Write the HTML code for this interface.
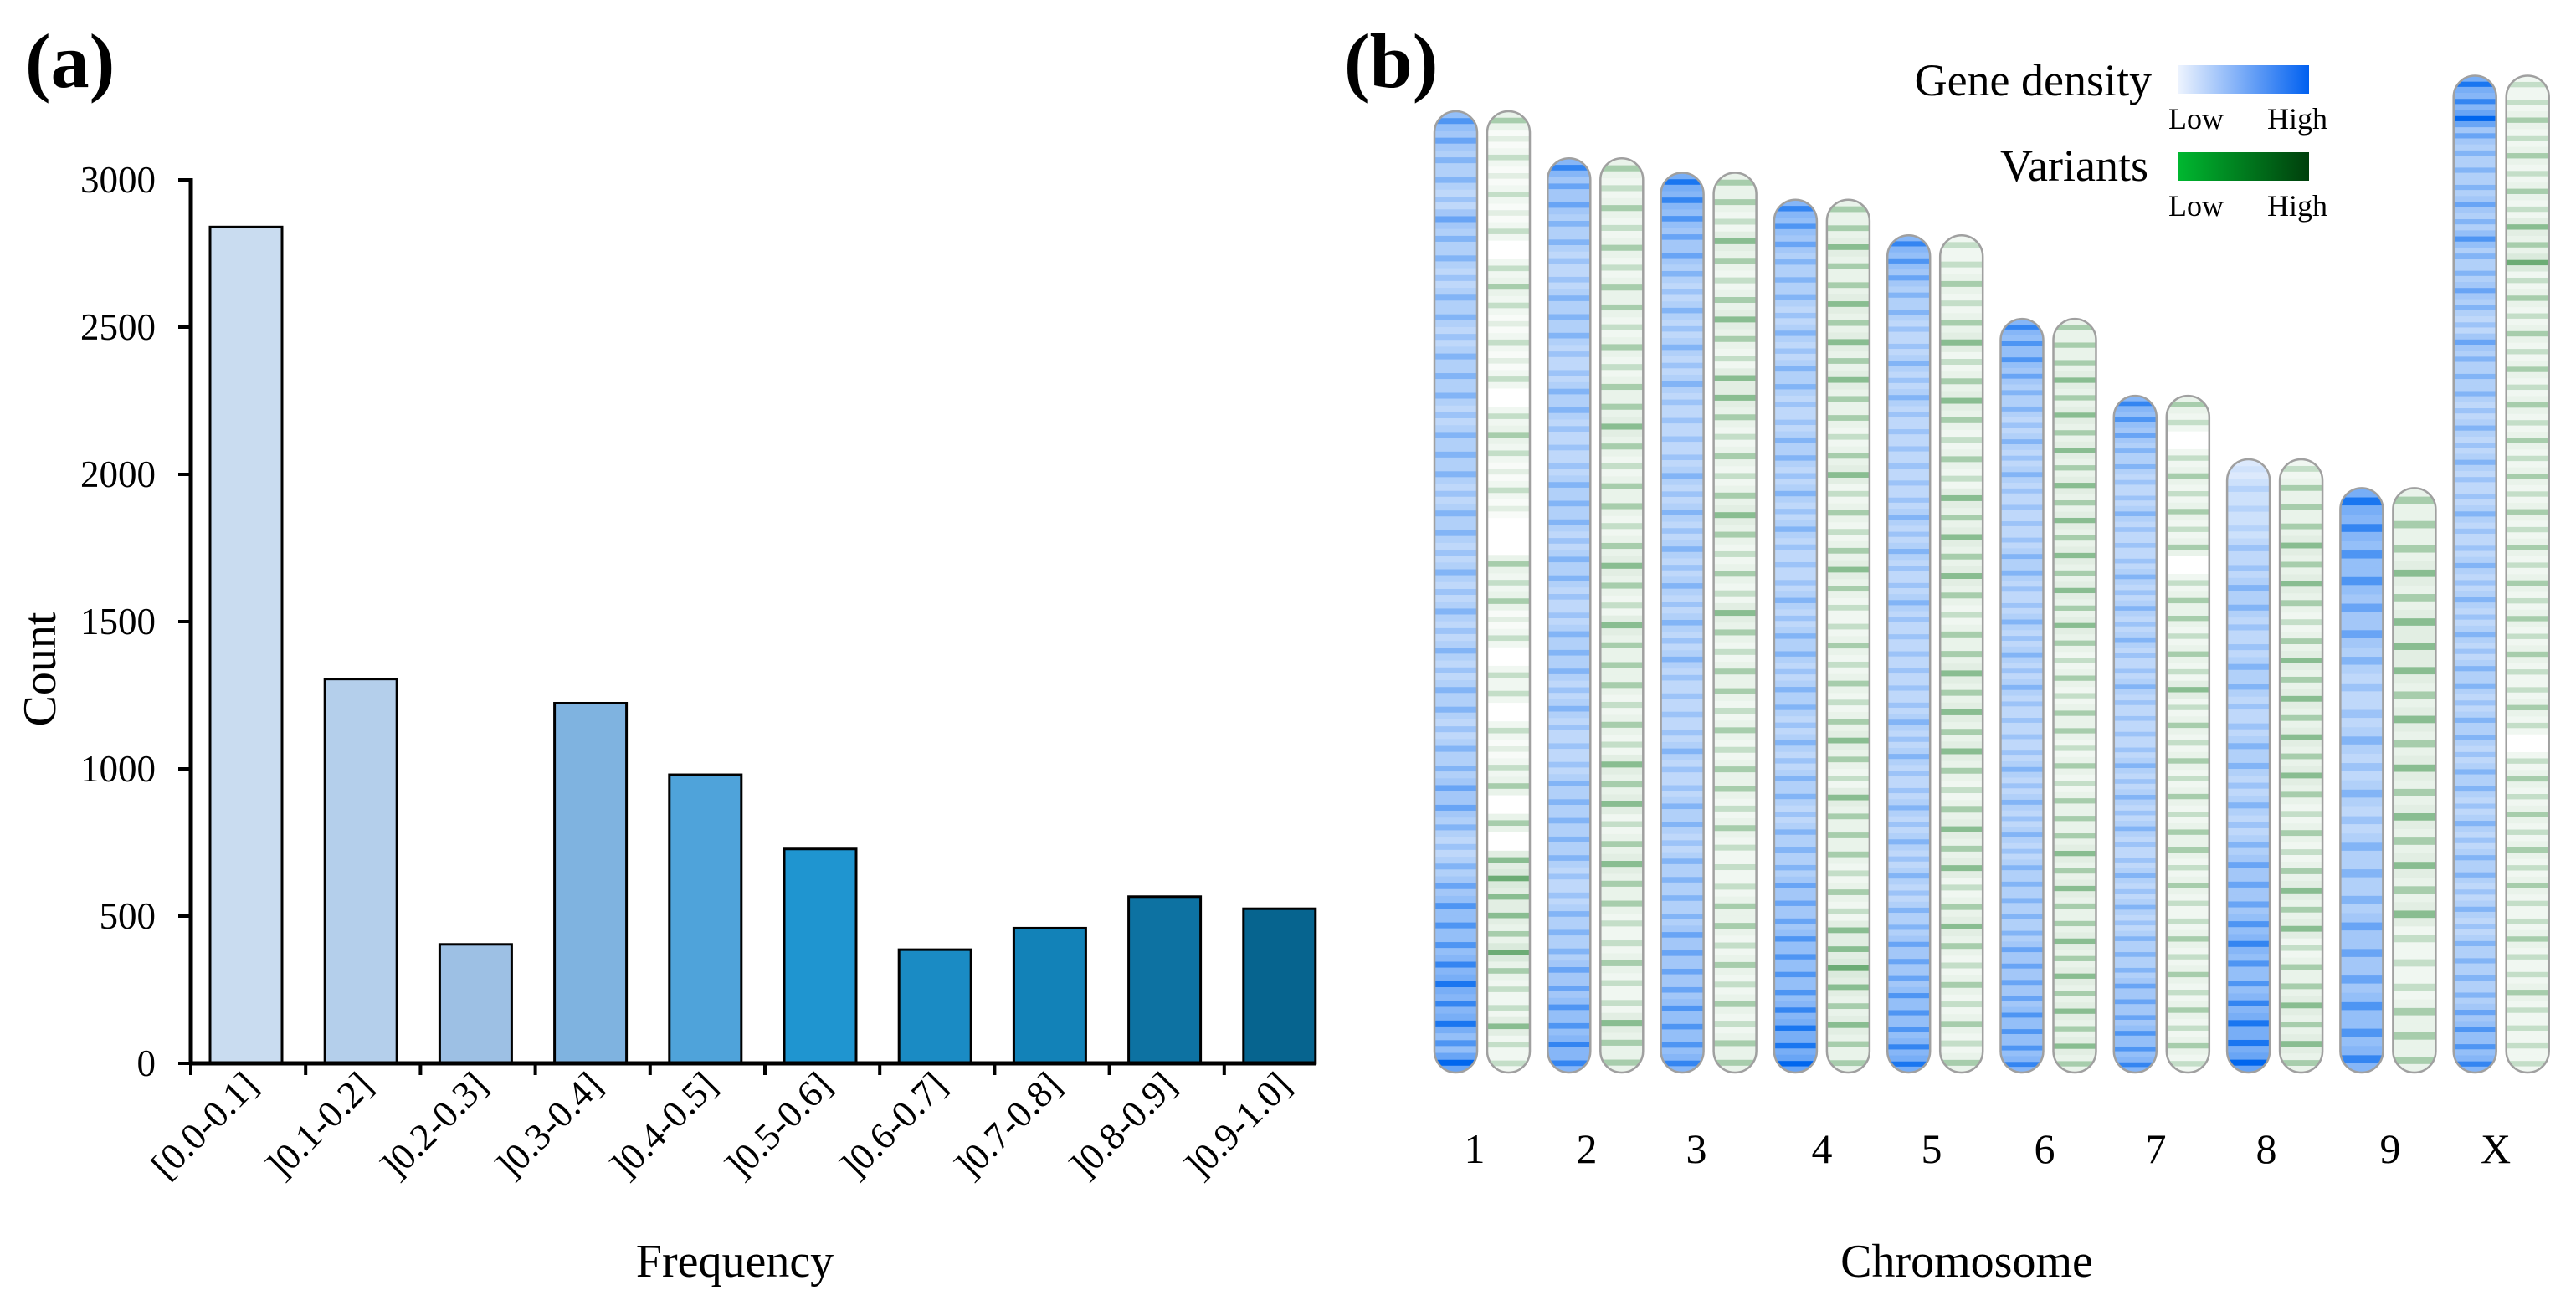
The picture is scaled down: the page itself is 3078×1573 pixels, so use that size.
<!DOCTYPE html>
<html><head><meta charset="utf-8"><style>
html,body{margin:0;padding:0;background:#fff;}
svg{display:block;font-family:"Liberation Serif",serif;}
</style></head><body>
<svg id="fig" width="3078" height="1573" viewBox="0 0 3078 1573" xmlns="http://www.w3.org/2000/svg">
<rect width="3078" height="1573" fill="#fff"/>
<text x="30" y="104" font-size="92" font-weight="bold">(a)</text>
<text x="1606" y="104" font-size="92" font-weight="bold">(b)</text>
<g id="barchart"></g>
<g id="chromo"></g>
<g>
<defs>
<linearGradient id="gBlue" x1="0" x2="1"><stop offset="0" stop-color="#eef4fe"/><stop offset="1" stop-color="#0060f0"/></linearGradient>
<linearGradient id="gGreen" x1="0" x2="1"><stop offset="0" stop-color="#00b830"/><stop offset="1" stop-color="#003f0c"/></linearGradient>
</defs>
<text x="2571" y="114" font-size="54" text-anchor="end">Gene density</text>
<rect x="2602" y="78" width="157" height="34" fill="url(#gBlue)"/>
<text x="2624" y="154" font-size="36" text-anchor="middle">Low</text>
<text x="2745" y="154" font-size="36" text-anchor="middle">High</text>
<text x="2567" y="216" font-size="54" text-anchor="end">Variants</text>
<rect x="2602" y="182" width="157" height="34" fill="url(#gGreen)"/>
<text x="2624" y="258" font-size="36" text-anchor="middle">Low</text>
<text x="2745" y="258" font-size="36" text-anchor="middle">High</text>
</g>
</svg>
<script>
// ---- Bar chart data ----
const categories = ["[0.0-0.1]","]0.1-0.2]","]0.2-0.3]","]0.3-0.4]","]0.4-0.5]","]0.5-0.6]","]0.6-0.7]","]0.7-0.8]","]0.8-0.9]","]0.9-1.0]"];
const counts = [2840, 1305, 404, 1223, 980, 728, 386, 459, 566, 525];
const barColors = ["#c9dcf0","#b4cfeb","#9dc0e4","#7fb3e0","#4fa3da","#1f95d0","#1a8bc4","#1282b8","#0d72a2","#06648f"];
const yTicks = [0, 500, 1000, 1500, 2000, 2500, 3000];

// ---- Chromosome data ----
const chromLabels = ["1","2","3","4","5","6","7","8","9","X"];
const chromLength = [100, 95.1, 93.6, 90.8, 87.1, 78.4, 70.4, 63.8, 60.8, 103.7];
const geneDensity = [
"6544354434434443444344343434344344554345666787869",
"7554433444334433344434433444343334444433444556677",
"8765543434343333434343434343333433443444455556667",
"7654443434433443434333434434434344344455566667889",
"7654433434333333434334333333434334343434455566678",
"7665443434333344334343433334343434444455556667",
"7654433433343434334333343434334343444555667",
"1222334433443344343455567667889",
"8766554334343444555667",
"8795444546445435444343433433434343443443443434434344445667"];
const variantDensity = [
"3121212023212120232121003231202202123030454435322422",
"3232323323233432332343243332324342343322322433",
"3324323432443232343232432332323323222332323233",
"3343343434332342323432232323432433323244543433",
"2232342343232434343233434343234342343232323",
"3334343434343434343232332323334343343434343",
"32023232302332324232323233232232323232",
"23334343234343434323234342334343",
"333434443434343434222333",
"22323232435232323232323232323232322320232323232232232222"];

const NS = "http://www.w3.org/2000/svg";
function mk(tag, attrs, parent){ const e=document.createElementNS(NS,tag); for(const k in attrs) e.setAttribute(k,attrs[k]); parent.appendChild(e); return e; }

const X0 = 228, CAT = 137.2, Y0 = 1271, PX_PER = 176/500;
const yScale = v => Y0 - v*PX_PER;
const xCat = i => X0 + i*CAT;
const bc = document.getElementById('barchart');

categories.forEach((c,i)=>{
  const h = Y0 - yScale(counts[i]);
  const r = mk('rect',{x:xCat(i)+23, y:yScale(counts[i]), width:86, height:h, fill:barColors[i], stroke:'#000','stroke-width':3}, bc);
  
  
  const cx = xCat(i)+CAT/2+14;
  const t = mk('text',{x:cx, y:1300, 'font-size':45, 'text-anchor':'end', transform:`rotate(-45 ${cx} 1300)`}, bc);
  t.textContent = c;
  
  
  const tk = mk('line',{x1:xCat(i), x2:xCat(i), y1:Y0, y2:Y0+14, stroke:'#000','stroke-width':4}, bc);
  
  
});
yTicks.forEach(v=>{
  const tk = mk('line',{x1:X0-15, x2:X0, y1:yScale(v), y2:yScale(v), stroke:'#000','stroke-width':4}, bc);
  
  
  const t = mk('text',{x:186, y:yScale(v)+15, 'font-size':45, 'text-anchor':'end'}, bc);
  t.textContent = v;
  
  
});
const ya = mk('line',{x1:X0, x2:X0, y1:yScale(3000)-2, y2:Y0+2, stroke:'#000','stroke-width':5}, bc);


const xa = mk('line',{x1:X0, x2:1572, y1:Y0, y2:Y0, stroke:'#000','stroke-width':5}, bc);


const yt = mk('text',{x:66, y:800, 'font-size':56, 'text-anchor':'middle', transform:'rotate(-90 66 800)'}, bc);
yt.textContent = 'Count';


const xt = mk('text',{x:878, y:1526, 'font-size':56, 'text-anchor':'middle'}, bc);
xt.textContent = 'Frequency';



const cg = document.getElementById('chromo');
const BOTTOM = 1282, LEN_PX = 1149/100, CX0 = 1714, CSTEP = 135.3, W = 51;
const chromTop = i => BOTTOM - chromLength[i]*LEN_PX;
function mix(a,b,t){ const p=s=>[1,3,5].map(k=>parseInt(s.substr(k,2),16)); const A=p(a),B=p(b); return 'rgb('+A.map((v,k)=>Math.round(v+(B[k]-v)*t)).join(',')+')'; }
const blueCol = v => mix('#eaf2fd','#0066ee',Math.min(1,v/9));
const greenCol = v => mix('#ffffff','#137a22',Math.min(1,v/8));
const labelX = [1762,1896,2027,2177,2308,2443,2576,2708,2856,2982];

chromLabels.forEach((lab,i)=>{
  const top = chromTop(i);
  [[CX0+i*CSTEP, geneDensity[i], blueCol, 'gene-density', 0.55],[CX0+i*CSTEP+63, variantDensity[i], greenCol, 'variants', 0.25]].forEach(([x,str,col,kind,baseF],j)=>{
    const id = 'clip'+i+'_'+j;
    const cp = mk('clipPath',{id:id}, cg);
    mk('rect',{x:x, y:top, width:W, height:BOTTOM-top, rx:W/2, ry:W/2}, cp);
    const g = mk('g',{'clip-path':`url(#${id})`}, cg);
    
    
    mk('rect',{x:x, y:top, width:W, height:BOTTOM-top, fill: j? '#fff' : blueCol(2)}, g);
    const n = str.length, bh = (BOTTOM-top)/n;
    for(let b=0;b<n;b++){
      const v = +str[b];
      const cell = mk('rect',{x:x, y:top+b*bh, width:W, height:bh+0.5, fill: col(v*baseF)}, g);
      
      
      const ln = mk('rect',{x:x, y:top+b*bh+bh*0.35, width:W, height:bh*0.3, fill: col(v)}, g);
      
      
    }
    const o = mk('rect',{x:x, y:top, width:W, height:BOTTOM-top, rx:W/2, ry:W/2, fill:'none', stroke:'#a0a0a0','stroke-width':2.5}, cg);
    
    
  });
  const t = mk('text',{x:labelX[i], y:1390, 'font-size':50, 'text-anchor':'middle'}, cg);
  t.textContent = lab;
  
  
});
const ct = mk('text',{x:2350, y:1526, 'font-size':56, 'text-anchor':'middle'}, cg);
ct.textContent = 'Chromosome';


</script>
</body></html>
